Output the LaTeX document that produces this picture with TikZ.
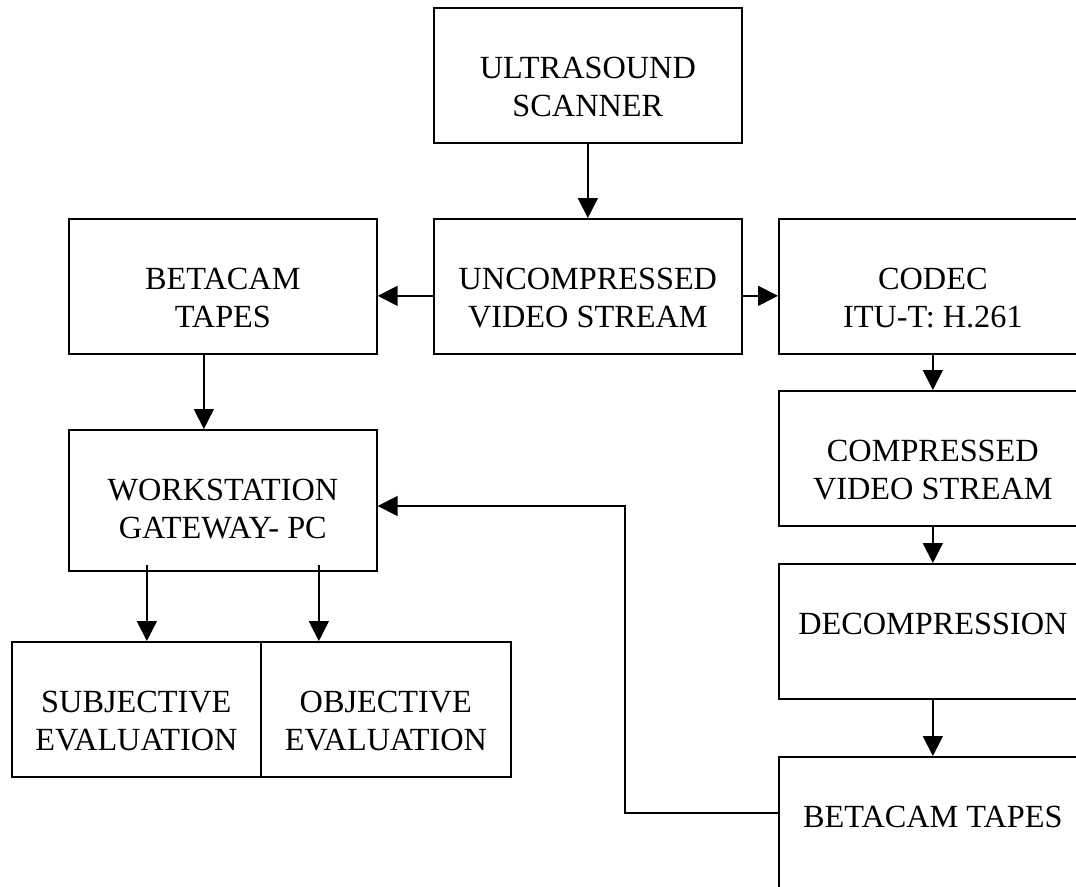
\documentclass[tikz,border=0pt]{standalone}
\usepackage{fontspec}
\setmainfont{Liberation Serif}
\usetikzlibrary{arrows.meta}
\begin{document}
\begin{tikzpicture}[x=1pt,y=-1pt,
  blk/.style={draw, line width=1.7pt, inner sep=0pt, anchor=north west,
    minimum width=308pt, minimum height=135pt},
  lbl/.style={anchor=north, align=center, inner sep=0pt,
    font=\fontsize{32.3}{37.7}\selectfont},
  arr/.style={line width=1.7pt, -{Triangle[length=20pt,width=20pt]}}]
\useasboundingbox (0,0) rectangle (1076,886);
\clip (0,0) rectangle (1076,886);

% processing chain
\node[blk] (us)    at (433,7)   {};
\node[blk] (unc)   at (433,218) {};
\node[blk] (beta)  at (68,218)  {};
\node[blk, minimum height=141pt] (ws) at (68,429) {};
\node[blk, minimum width=249pt] (subj) at (11,641) {};
\node[blk, minimum width=250pt] (obj)  at (260,641) {};
\node[blk] (codec) at (778,218) {};
\node[blk] (comp)  at (778,390) {};
\node[blk] (dec)   at (778,563) {};
\node[blk] (bt)    at (778,756) {};

% box texts, hung from the top edges
\node[lbl] at ([yshift=-50pt]us.north)    {ULTRASOUND\\SCANNER};
\node[lbl] at ([yshift=-50pt]unc.north)   {UNCOMPRESSED\\VIDEO STREAM};
\node[lbl] at ([yshift=-50pt]beta.north)  {BETACAM\\TAPES};
\node[lbl] at ([yshift=-50pt]ws.north)    {WORKSTATION\\GATEWAY- PC};
\node[lbl] at ([yshift=-50pt]subj.north)  {SUBJECTIVE\\EVALUATION};
\node[lbl] at ([yshift=-50pt]obj.north)   {OBJECTIVE\\EVALUATION};
\node[lbl] at ([yshift=-50pt]codec.north) {CODEC\\ITU-T: H.261};
\node[lbl] at ([yshift=-50pt]comp.north)  {COMPRESSED\\VIDEO STREAM};
\node[lbl] at ([yshift=-50pt]dec.north)   {DECOMPRESSION};
\node[lbl] at ([yshift=-50pt]bt.north)    {BETACAM TAPES};

% connectors
\draw[arr] (us.south) -- (unc.north);
\draw[arr] ([yshift=-9.5pt]unc.west) -- ([yshift=-9.5pt]beta.east);
\draw[arr] ([yshift=-9.5pt]unc.east) -- ([yshift=-9.5pt]codec.west);
\draw[arr] ([xshift=-19pt]beta.south) -- ([xshift=-19pt]ws.north);
\draw[arr] ([xshift=-76pt,yshift=7pt]ws.south) -- ([xshift=-76pt]ws.south |- subj.north);
\draw[arr] ([xshift=96pt,yshift=7pt]ws.south) -- ([xshift=96pt]ws.south |- obj.north);
\draw[arr] (codec.south) -- (comp.north);
\draw[arr] (comp.south) -- (dec.north);
\draw[arr] (dec.south) -- (bt.north);
\draw[arr] ([yshift=-57pt]bt.north west) -- ++(-153,0) |- ([yshift=-77pt]ws.north east);
\end{tikzpicture}
\end{document}
